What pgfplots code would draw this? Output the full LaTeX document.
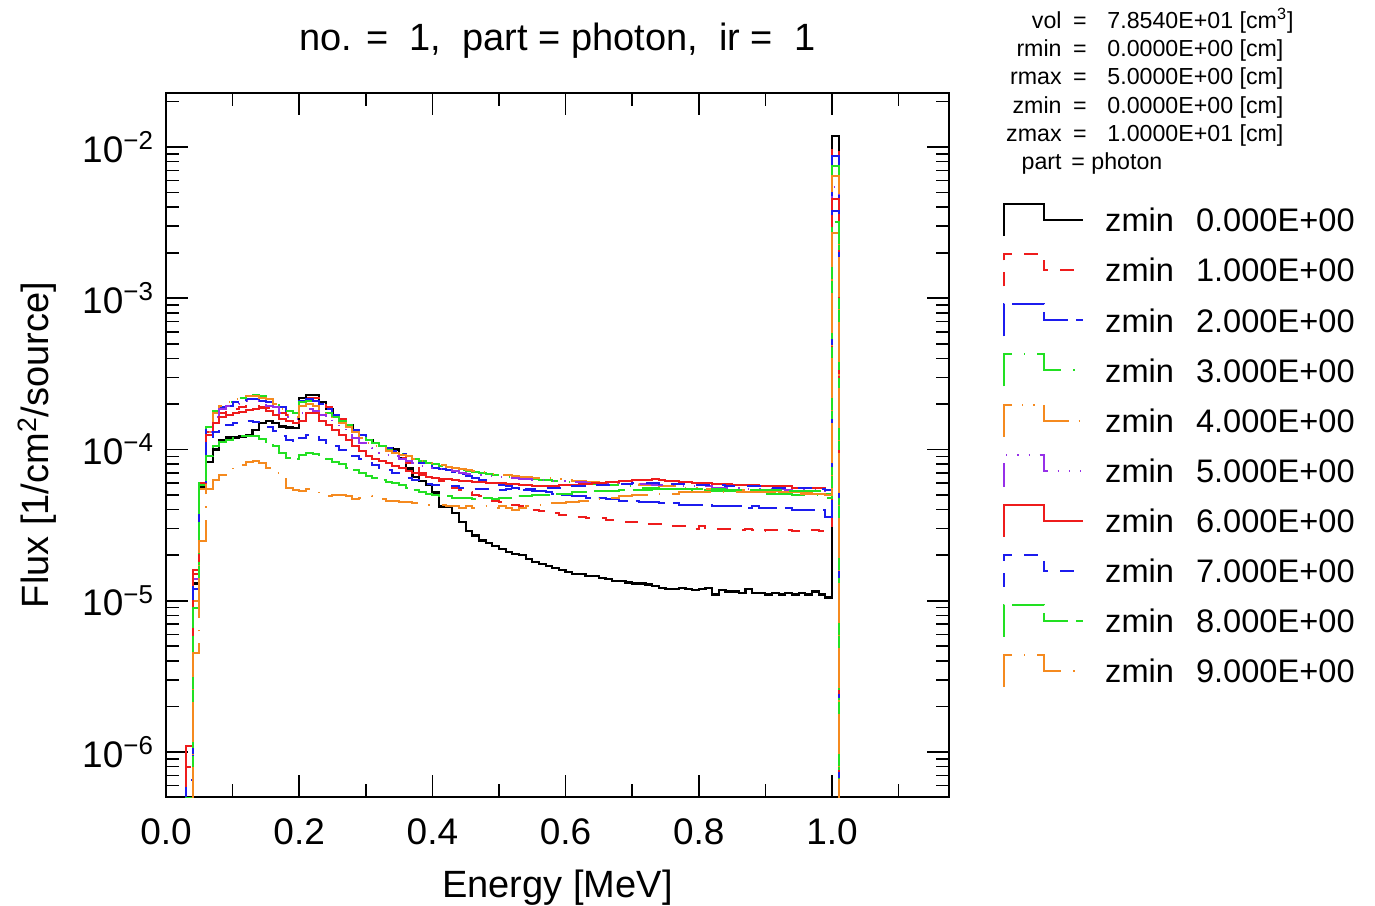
\documentclass[border=0pt]{standalone}
\usepackage{fontspec}
\setmainfont{Liberation Sans}
\usepackage{pgfplots}
\usepackage{pgfplotstable}
\pgfplotsset{compat=1.18}

\definecolor{cred}{HTML}{EE1C1C}
\definecolor{cblue}{HTML}{1C1CEE}
\definecolor{cgreen}{HTML}{22E022}
\definecolor{corange}{HTML}{F58A1F}
\definecolor{cpurple}{HTML}{9630E8}

% flux in units of 1e-5 [1/cm^2/source], lower bin edge in MeV
\pgfplotstableread{
x     s0    s1    s2    s3    s4    s5    s6    s7    s8    s9
0.02  0.001 0.001 0.001 0.001 0.001 0.001 0.001 0.001 0.001 0.001
0.03  0.04  0.08  0.04  0.04  0.05  0.10  0.11  0.065 0.05  0.03
0.04  1.3   1.5   1.2   0.9   1.0   1.4   1.6   1.3   0.9   0.45
0.05  5.6   6.0   6.2   5.8   5.5   6.0   6.0   5.5   6.1   2.5
0.06  8.3   13    14    14    13    13    12.5  11    9     5.5
0.07  10    16    17.5  18    17.5  16.5  15    13    10.5  6.3
0.08  11.5  17.5  19    19.5  19.5  18.5  16.5  14    11.2  6.8
0.09  12    18    19.5  20.5  20.5  19.5  17    14.5  11.5  7.2
0.10  12    18.5  20.5  21    21.5  20    17.5  15    12    7.6
0.11  12.2  19    21    22    22    20.5  17.8  15.2  12.2  7.9
0.12  12.5  19.5  21.5  22.5  22.5  21    18.2  15.5  12.3  8.3
0.13  13.5  19.5  21.5  23    22.5  21    18.5  15.3  12.2  8.4
0.14  15    19    21    22.5  22    20.5  18.8  14.8  11.8  8.2
0.15  15.5  18.8  20.5  21.5  21.5  19.5  18    14    11.2  7.6
0.16  15    18.5  20    20.5  20    19    17    13.2  10.5  7.0
0.17  14.2  17.5  19    19    18.5  17.5  16    12.2  9.5   6.6
0.18  14    17    18    18    17    16.5  15.5  11.5  8.8   5.6
0.19  13.8  16.5  17.5  17.5  16.5  16    15    11    8.6   5.4
0.20  22    21    21    20.5  19.5  17.5  15.5  12    9.2   5.3
0.21  23    22    21.5  21    20    18.5  17.5  12.5  9.5   5.5
0.22  23    22    21    20.5  19.5  18    17.5  12.3  9.4   5.3
0.23  20.5  20.5  20    19    18.5  17    15.5  11.5  9.0   5.0
0.24  18.5  19    18.5  17.5  17    16    14.5  11    8.6   4.9
0.25  17    17.5  17    16.5  16    15    13.5  10.5  8.3   5.0
0.26  15.5  16    15.5  15.5  15    14    12.5  10    8.0   5.0
0.27  14.5  14.5  14.5  14.5  14    13    11.5  9.5   7.6   4.9
0.28  13.5  13.5  13.5  13.5  13    12    10.5  9.0   7.3   4.7
0.29  12.5  12.5  12.5  12.5  12    11    9.8   8.6   7.0   4.8
0.30  11.5  11.5  11.5  11.5  11    10.2  9.0   8.2   6.7   4.9
0.31  11    11    11    11    10.5  9.8   8.7   7.9   6.5   4.8
0.32  10.5  10.4  10.5  10.5  10.2  9.5   8.4   7.6   6.3   4.7
0.33  10.2  10    10.2  10    9.8   9.2   8.1   7.3   6.1   4.6
0.34  10    9.5   9.8   9.8   9.5   9.0   7.8   7.0   6.0   4.6
0.35  8.8   8.8   9.4   9.4   9.2   8.7   7.5   6.8   5.8   4.5
0.36  7.5   8.2   9.0   9.0   9.0   8.4   7.2   6.5   5.6   4.5
0.37  6.6   7.5   8.6   8.7   8.7   8.1   7.0   6.3   5.4   4.4
0.38  6.2   7.0   8.2   8.4   8.4   7.8   6.8   6.0   5.2   4.4
0.39  5.8   6.7   7.9   8.2   8.2   7.6   6.6   5.9   5.1   4.3
0.40  5.2   6.5   7.6   8.0   8.0   7.5   6.5   5.8   5.0   4.3
0.41  4.2   6.2   7.4   7.8   7.9   7.4   6.4   5.8   4.9   4.3
0.42  4.2   5.9   7.3   7.6   7.7   7.3   6.4   5.7   4.9   4.2
0.43  3.8   5.6   7.1   7.5   7.5   7.2   6.3   5.7   4.8   4.2
0.44  3.3   5.4   6.9   7.3   7.4   7.0   6.2   5.6   4.8   4.1
0.45  2.9   5.2   6.7   7.2   7.3   6.9   6.2   5.6   4.8   4.2
0.46  2.7   5.0   6.5   7.1   7.2   6.8   6.1   5.5   4.7   4.1
0.47  2.5   4.9   6.3   7.0   7.1   6.8   6.1   5.5   4.8   4.1
0.48  2.4   4.7   6.1   6.9   7.0   6.7   6.0   5.5   4.8   4.2
0.49  2.3   4.6   6.0   6.8   6.9   6.7   6.0   5.5   4.7   4.1
0.50  2.2   4.5   5.8   6.7   6.8   6.6   6.0   5.4   4.8   4.2
0.51  2.1   4.4   5.7   6.6   6.8   6.5   5.9   5.5   4.8   4.1
0.52  2.05  4.3   5.6   6.6   6.7   6.5   5.9   5.4   4.9   4.0
0.53  2.0   4.2   5.5   6.5   6.6   6.4   5.8   5.4   4.9   4.1
0.54  1.9   4.1   5.4   6.4   6.6   6.4   5.8   5.5   4.9   4.2
0.55  1.8   4.0   5.3   6.4   6.5   6.3   5.7   5.5   5.0   4.2
0.56  1.75  3.9   5.3   6.3   6.5   6.3   5.7   5.5   5.0   4.3
0.57  1.7   3.8   5.2   6.3   6.5   6.3   5.7   5.6   5.0   4.3
0.58  1.65  3.8   5.1   6.2   6.4   6.2   5.7   5.6   5.1   4.4
0.59  1.6   3.7   5.0   6.2   6.4   6.2   5.8   5.6   5.1   4.4
0.60  1.55  3.7   5.0   6.1   6.3   6.2   5.8   5.6   5.1   4.5
0.61  1.5   3.6   4.9   6.0   6.2   6.1   5.8   5.7   5.2   4.5
0.62  1.5   3.6   4.9   6.0   6.2   6.1   5.9   5.7   5.2   4.6
0.63  1.45  3.5   4.8   5.9   6.1   6.0   5.9   5.7   5.2   4.6
0.64  1.45  3.5   4.8   5.9   6.1   6.0   6.0   5.8   5.3   4.7
0.65  1.42  3.5   4.8   5.9   6.0   6.0   6.0   5.8   5.3   4.7
0.66  1.4   3.4   4.7   5.8   6.0   6.0   6.1   5.8   5.3   4.8
0.67  1.35  3.4   4.7   5.8   6.0   6.0   6.1   5.9   5.3   4.8
0.68  1.35  3.4   4.6   5.8   5.9   5.9   6.2   5.9   5.4   4.9
0.69  1.32  3.3   4.6   5.7   5.9   5.9   6.2   5.9   5.4   4.9
0.70  1.3   3.3   4.6   5.7   5.9   5.9   6.3   6.0   5.4   5.0
0.71  1.3   3.3   4.5   5.6   5.8   5.9   6.3   6.0   5.4   5.0
0.72  1.28  3.2   4.5   5.6   5.8   5.9   6.3   6.0   5.4   5.0
0.73  1.25  3.2   4.5   5.6   5.8   5.8   6.4   6.0   5.5   5.1
0.74  1.22  3.2   4.4   5.5   5.7   5.8   6.3   5.9   5.5   5.1
0.75  1.2   3.1   4.4   5.5   5.7   5.8   6.2   5.9   5.5   5.1
0.76  1.2   3.1   4.4   5.5   5.7   5.8   6.2   5.9   5.5   5.1
0.77  1.22  3.1   4.3   5.5   5.6   5.7   6.1   5.9   5.5   5.2
0.78  1.2   3.1   4.3   5.4   5.6   5.7   6.1   5.8   5.5   5.2
0.79  1.18  3.0   4.3   5.4   5.6   5.7   6.0   5.8   5.5   5.2
0.80  1.2   3.1   4.3   5.4   5.5   5.7   6.0   5.8   5.5   5.2
0.81  1.22  3.0   4.3   5.4   5.5   5.7   6.0   5.8   5.5   5.2
0.82  1.1   3.0   4.2   5.3   5.5   5.6   5.9   5.8   5.5   5.2
0.83  1.18  3.0   4.2   5.3   5.5   5.6   5.9   5.8   5.5   5.2
0.84  1.15  3.0   4.2   5.3   5.4   5.6   5.9   5.7   5.4   5.2
0.85  1.15  2.95  4.2   5.3   5.4   5.6   5.8   5.7   5.4   5.2
0.86  1.12  2.95  4.2   5.2   5.4   5.6   5.8   5.7   5.4   5.2
0.87  1.2   3.0   4.1   5.2   5.4   5.5   5.8   5.7   5.4   5.2
0.88  1.13  2.95  4.2   5.2   5.3   5.5   5.8   5.7   5.4   5.2
0.89  1.12  2.9   4.1   5.2   5.3   5.5   5.7   5.7   5.4   5.2
0.90  1.1   2.95  4.1   5.1   5.3   5.5   5.7   5.6   5.4   5.2
0.91  1.12  2.95  4.1   5.1   5.3   5.5   5.7   5.6   5.4   5.2
0.92  1.1   2.9   4.1   5.1   5.2   5.5   5.7   5.6   5.4   5.2
0.93  1.12  2.95  4.1   5.1   5.2   5.4   5.7   5.6   5.3   5.2
0.94  1.1   2.9   4.0   5.0   5.2   5.4   5.6   5.6   5.3   5.2
0.95  1.12  2.9   4.0   5.0   5.2   5.4   5.6   5.6   5.3   5.1
0.96  1.1   2.9   4.0   5.0   5.2   5.4   5.6   5.6   5.3   5.1
0.97  1.15  2.95  4.0   5.0   5.1   5.4   5.6   5.5   5.3   5.1
0.98  1.1   2.9   4.0   5.0   5.1   5.3   5.6   5.5   5.3   5.1
0.99  1.05  2.9   3.6   4.8   5.0   5.2   5.4   5.4   5.1   5.0
1.00  1180  1000  870   750   640   540   450   380   320   270
1.01  0.001 0.001 0.001 0.001 0.001 0.001 0.001 0.001 0.001 0.001
1.02  0.001 0.001 0.001 0.001 0.001 0.001 0.001 0.001 0.001 0.001
}\flux

\newcommand\tickfont{\fontsize{18.5}{21}\selectfont}
\newcommand\labfont{\fontsize{19}{22}\selectfont}
\newcommand\legfont{\fontsize{16.3}{18}\selectfont}
\newcommand\infofont{\fontsize{11.6}{13}\selectfont}

\begin{document}
\begin{tikzpicture}
\begin{axis}[
    scale only axis,
    width=391.5pt, height=352pt,
    ymode=log,
    xmin=0, xmax=1.1757,
    ymin=5.04e-7, ymax=2.275e-2,
    xtick={0,0.2,0.4,0.6,0.8,1.0},
    minor xtick={0.1,0.3,0.5,0.7,0.9,1.1},
    xticklabels={0.0,0.2,0.4,0.6,0.8,1.0},
    ytick={1e-6,1e-5,1e-4,1e-3,1e-2},
    yticklabels={10\textsuperscript{−6},10\textsuperscript{−5},10\textsuperscript{−4},10\textsuperscript{−3},10\textsuperscript{−2}},
    minor ytick={6e-7,7e-7,8e-7,9e-7,
        2e-6,3e-6,4e-6,5e-6,6e-6,7e-6,8e-6,9e-6,
        2e-5,3e-5,4e-5,5e-5,6e-5,7e-5,8e-5,9e-5,
        2e-4,3e-4,4e-4,5e-4,6e-4,7e-4,8e-4,9e-4,
        2e-3,3e-3,4e-3,5e-3,6e-3,7e-3,8e-3,9e-3,2e-2},
    tick align=inside,
    xtick pos=both, ytick pos=both,
    major tick length=11pt, minor tick length=6.5pt,
    every tick/.style={black, line width=0.8pt},
    axis line style={line width=1pt},
    xticklabel style={font=\tickfont, yshift=-7.5pt},
    yticklabel style={font=\tickfont, xshift=-2.5pt},
    xlabel={Energy [MeV]},
    ylabel={Flux [1/cm\textsuperscript{2}/source]},
    every axis x label/.style={at={(axis description cs:0.5,-0.129)}, anchor=center, font=\labfont},
    every axis y label/.style={at={(axis description cs:-0.1648,0.5)}, rotate=90, anchor=center, font=\labfont},
    title={no. = \ 1, \ part = photon, \ ir = \ 1},
    title style={at={(axis description cs:0.5,1.058)}, anchor=center, font=\labfont},
    legend cell align=left,
    legend style={draw=none, fill=none, at={(1.069,0.8438)}, anchor=north west,
        inner sep=0pt, outer sep=0pt, row sep=8.05pt, column sep=0pt, font=\legfont,
        nodes={inner sep=0pt, text height=13.85pt, text depth=2.15pt}},
    legend image code/.code={
        \draw[#1] (0pt,-8pt) -- (0pt,8pt) -- (20pt,8pt) -- (20pt,0pt) -- (39.5pt,0pt);
        \path (50pt,0pt);
    },
    every axis plot/.append style={const plot mark left, line width=1pt},
]
\addplot[black, line width=1.1pt] table[x=x, y expr=\thisrow{s0}*1e-5] {\flux};
\addlegendentry{zmin\hspace{11pt}0.000E+00}
\addplot[cred, dash pattern=on 7pt off 6pt] table[x=x, y expr=\thisrow{s1}*1e-5] {\flux};
\addlegendentry{zmin\hspace{11pt}1.000E+00}
\addplot[cblue, dash pattern=on 16pt off 4pt] table[x=x, y expr=\thisrow{s2}*1e-5] {\flux};
\addlegendentry{zmin\hspace{11pt}2.000E+00}
\addplot[cgreen, dash pattern=on 20pt off 6pt on 0.6pt off 6pt] table[x=x, y expr=\thisrow{s3}*1e-5] {\flux};
\addlegendentry{zmin\hspace{11pt}3.000E+00}
\addplot[corange, dash pattern=on 20pt off 5pt on 0.6pt off 5pt on 0.6pt off 5pt] table[x=x, y expr=\thisrow{s4}*1e-5] {\flux};
\addlegendentry{zmin\hspace{11pt}4.000E+00}
\addplot[cpurple, dash pattern=on 12pt off 5pt on 0.6pt off 5pt on 0.6pt off 5pt on 0.6pt off 5pt] table[x=x, y expr=\thisrow{s5}*1e-5] {\flux};
\addlegendentry{zmin\hspace{11pt}5.000E+00}
\addplot[cred] table[x=x, y expr=\thisrow{s6}*1e-5] {\flux};
\addlegendentry{zmin\hspace{11pt}6.000E+00}
\addplot[cblue, dash pattern=on 7pt off 6pt] table[x=x, y expr=\thisrow{s7}*1e-5] {\flux};
\addlegendentry{zmin\hspace{11pt}7.000E+00}
\addplot[cgreen, dash pattern=on 16pt off 4pt] table[x=x, y expr=\thisrow{s8}*1e-5] {\flux};
\addlegendentry{zmin\hspace{11pt}8.000E+00}
\addplot[corange, dash pattern=on 20pt off 6pt on 0.6pt off 6pt] table[x=x, y expr=\thisrow{s9}*1e-5] {\flux};
\addlegendentry{zmin\hspace{11pt}9.000E+00}
\end{axis}

% region information, top right
\begin{scope}[every node/.style={font=\infofont, inner sep=0pt}]
\node[anchor=base east] at (448pt,384.25pt) {vol};
\node[anchor=base east] at (448pt,370.1pt) {rmin};
\node[anchor=base east] at (448pt,356pt) {rmax};
\node[anchor=base east] at (448pt,341.85pt) {zmin};
\node[anchor=base east] at (448pt,327.7pt) {zmax};
\node[anchor=base east] at (448pt,313.5pt) {part};
\node[anchor=base] at (457pt,384.25pt) {=};
\node[anchor=base] at (457pt,370.1pt) {=};
\node[anchor=base] at (457pt,356pt) {=};
\node[anchor=base] at (457pt,341.85pt) {=};
\node[anchor=base] at (457pt,327.7pt) {=};
\node[anchor=base west] at (470.5pt,384.25pt) {7.8540E+01 [cm\textsuperscript{3}]};
\node[anchor=base west] at (470.5pt,370.1pt) {0.0000E+00 [cm]};
\node[anchor=base west] at (470.5pt,356pt) {5.0000E+00 [cm]};
\node[anchor=base west] at (470.5pt,341.85pt) {0.0000E+00 [cm]};
\node[anchor=base west] at (470.5pt,327.7pt) {1.0000E+01 [cm]};
\node[anchor=base west] at (452.5pt,313.5pt) {= photon};
\end{scope}

\pgfresetboundingbox
\useasboundingbox (-83pt,-54pt) rectangle (604.5pt,398.5pt);
\end{tikzpicture}
\end{document}
